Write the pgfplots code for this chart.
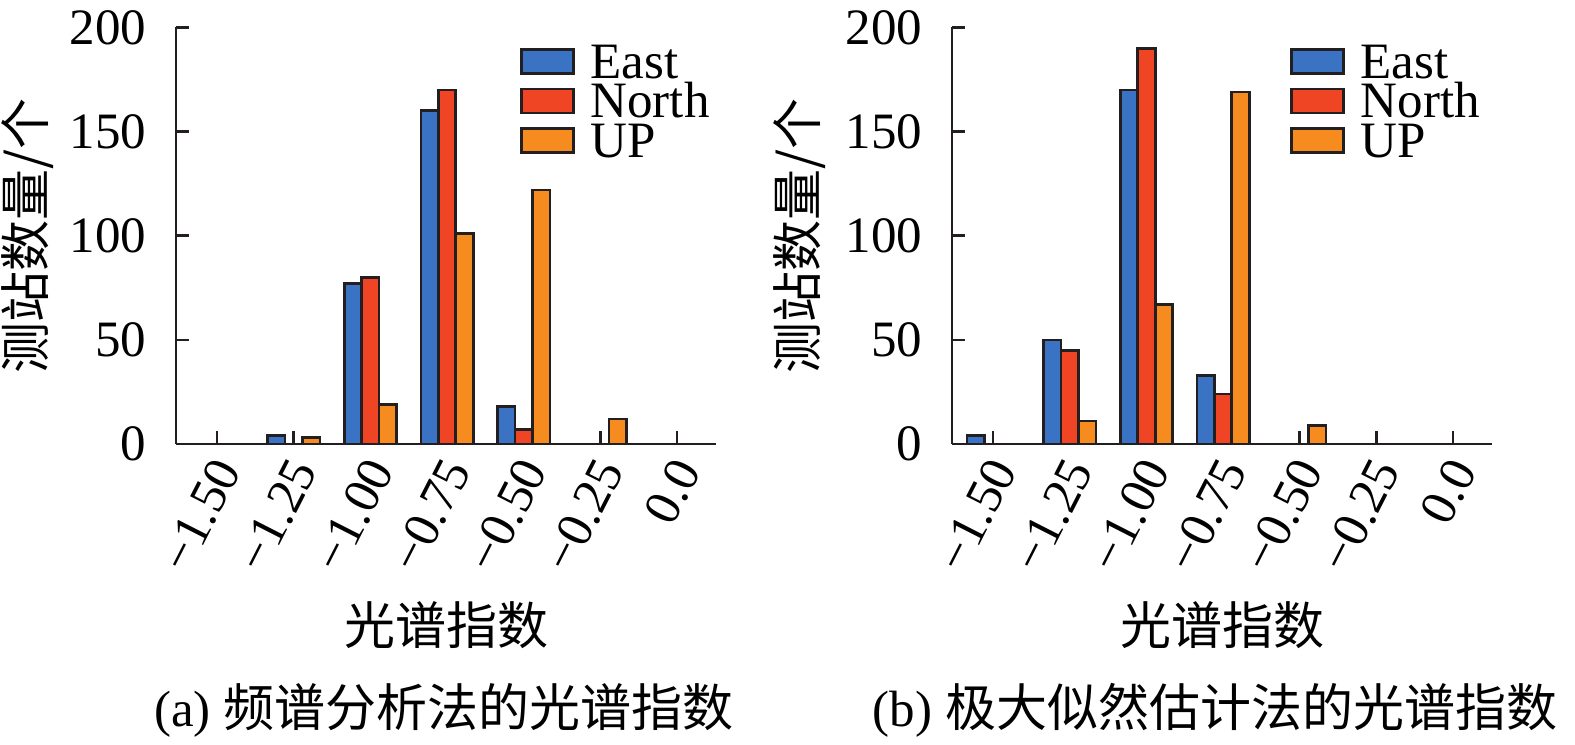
\documentclass[border=0pt]{standalone}
\usepackage{fontspec}
\setmainfont{Liberation Serif}
\newfontfamily\cjk{Noto Sans CJK SC}
\usepackage{pgfplots}
\pgfplotsset{compat=1.18}
\definecolor{cE}{HTML}{3A72C4}
\definecolor{cN}{HTML}{EF4524}
\definecolor{cU}{HTML}{F68B1F}
\definecolor{edge}{HTML}{231F20}
\newcommand{\fs}{\fontsize{12.75pt}{14pt}\selectfont}
\pgfplotsset{
 myaxis/.style={
  scale only axis, width=135pt, height=104.125pt,
  xmin=-1.634, xmax=0.127, ymin=0, ymax=200,
  axis lines=left, axis line style={-, line width=0.67pt, color=edge},
  tick align=inside, major tick length=3.2pt,
  tick style={line width=0.67pt, color=edge},
  xtick={-1.5,-1.25,-1,-0.75,-0.5,-0.25,0},
  xticklabels={−1.50,−1.25,−1.00,−0.75,−0.50,−0.25,0.0},
  ytick={0,50,100,150,200}, yticklabels={0,50,100,150,200},
  font=\fs,
  xticklabel style={xshift=-1.5pt, yshift=-2.5pt, rotate=63, anchor=north east, inner sep=0pt},
  yticklabel style={xshift=-7.25pt, anchor=east, inner sep=0pt},
  legend style={draw=none, fill=none, inner sep=0pt, outer sep=0pt, row sep=1.375pt, column sep=4pt, font=\fs, nodes={inner sep=0pt, text height=8.5pt, text depth=0pt}},
  legend cell align=left,
  legend image code/.code={\draw[##1, line width=0.67pt] (0pt,-3.05pt) rectangle (13pt,2.95pt);},
  clip=false,
 },
 barE/.style={ybar, bar width=0.057, bar shift=-0.057, fill=cE, draw=edge, line width=0.67pt},
 barN/.style={ybar, bar width=0.057, bar shift=0, fill=cN, draw=edge, line width=0.67pt},
 barU/.style={ybar, bar width=0.057, bar shift=0.057, fill=cU, draw=edge, line width=0.67pt},
}
\begin{document}
\begin{tikzpicture}
\path[use as bounding box] (0,0) rectangle (393.75pt,186.25pt);
\begin{axis}[myaxis, at={(44pt,75.25pt)}, anchor=south west,
  legend style={at={(0.637,0.960)}, anchor=north west}]
\addplot[barE] coordinates {(-1.25,4) (-1,77) (-0.75,160) (-0.5,18)};
\addplot[barN] coordinates {(-1,80) (-0.75,170) (-0.5,7)};
\addplot[barU] coordinates {(-1.25,3) (-1,19) (-0.75,101) (-0.5,122) (-0.25,12)};
\legend{East,North,UP}
\node[rotate=90, font=\fs\cjk] at (axis description cs:-0.274,0.5) {测站数量/个};
\node[font=\fs\cjk] at (axis description cs:0.5,-0.4346) {光谱指数};
\end{axis}
\begin{axis}[myaxis, at={(238pt,75.25pt)}, anchor=south west,
  legend style={at={(0.626,0.960)}, anchor=north west}]
\addplot[barE] coordinates {(-1.5,4) (-1.25,50) (-1,170) (-0.75,33)};
\addplot[barN] coordinates {(-1.25,45) (-1,190) (-0.75,24)};
\addplot[barU] coordinates {(-1.25,11) (-1,67) (-0.75,169) (-0.5,9)};
\legend{East,North,UP}
\node[rotate=90, font=\fs\cjk] at (axis description cs:-0.2815,0.5) {测站数量/个};
\node[font=\fs\cjk] at (axis description cs:0.5,-0.4346) {光谱指数};
\end{axis}
\node[font=\fs] at (111pt,8.75pt) {(a) {\cjk 频谱分析法的光谱指数}};
\node[font=\fs] at (303.75pt,8.75pt) {(b) {\cjk 极大似然估计法的光谱指数}};
\end{tikzpicture}
\end{document}
